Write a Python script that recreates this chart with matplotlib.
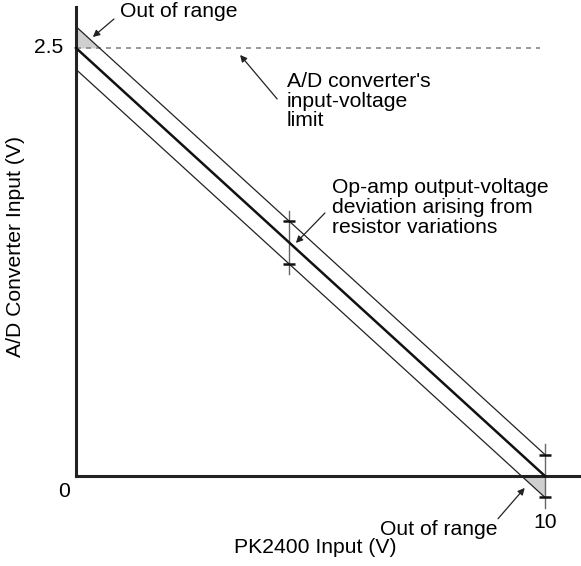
# A/D converter input vs PK2400 input, with tolerance band

import numpy as np
import matplotlib.pyplot as plt

plt.rcParams['font.family'] = ['Liberation Sans', 'DejaVu Sans']

# Data
x_in = [0.0, 10.0]              # PK2400 input (V)
adc = [2.5, 0.0]                # nominal A/D converter input (V)
dev = 0.125                     # op-amp output deviation (V)
adc_limit = 2.5                 # A/D input-voltage limit (V)
bar_x = [4.54, 10.0]            # where the deviation bars are drawn

x = np.array(x_in)
y = np.array(adc)
slope = (y[1] - y[0]) / (x[1] - x[0])
def nominal(v):
    return y[0] + slope * (np.asarray(v) - x[0])

fig = plt.figure(figsize=(5.81, 5.66), dpi=100)
ax = fig.add_axes([0, 0, 1, 1])
ax.set_xlim(-1.62, 10.77)
ax.set_ylim(-0.526, 2.78)

# axes lines
for s in ['top', 'right']:
    ax.spines[s].set_visible(False)
ax.spines['left'].set_position(('data', 0))
ax.spines['bottom'].set_position(('data', 0))
ax.spines['left'].set_bounds(0, 2.74)
ax.spines['bottom'].set_bounds(0, 10.77)
ax.spines['left'].set_linewidth(2.2)
ax.spines['bottom'].set_linewidth(2.2)
ax.spines['left'].set_color('#222222')
ax.spines['bottom'].set_color('#222222')
ax.set_xticks([])
ax.set_yticks([])

# shaded out-of-range regions
xt = np.array([0, dev / -slope])
ax.fill_between(xt, nominal(xt) + dev, adc_limit, color='#cfcfcf', lw=0, zorder=1)
xb = np.array([x[1] - dev / -slope, x[1]])
ax.fill_between(xb, nominal(xb) - dev, 0, color='#cfcfcf', lw=0, zorder=1)

# limit line
ax.plot([0, 9.9], [adc_limit, adc_limit], ls=(0, (3, 3)), color='#888888', lw=1.2)

# transfer lines
ax.plot(x, y, color='#111111', lw=1.8, zorder=3)
ax.plot(x, y + dev, color='#222222', lw=0.9, zorder=3)
ax.plot(x, y - dev, color='#222222', lw=0.9, zorder=3)

# deviation bars
for bx in bar_x:
    yc = float(nominal(bx))
    ax.plot([bx, bx], [yc - dev - 0.06, yc + dev + 0.06], color='#666666', lw=1.0, zorder=2)
    ax.plot([bx, bx], [yc - dev, yc + dev], ls='none', marker='_', ms=9,
            mew=1.8, color='#111111', zorder=4)

fs = 15.2
# tick labels
ax.text(-0.28, 2.5, '2.5', ha='right', va='center', fontsize=fs)
ax.text(-0.25, -0.09, '0', ha='center', va='center', fontsize=fs)
ax.text(10.0, -0.27, '10', ha='center', va='center', fontsize=fs)

# axis labels
ax.text(5.1, -0.42, 'PK2400 Input (V)', ha='center', va='center', fontsize=fs)
ax.text(-1.3, 1.34, 'A/D Converter Input (V)', ha='center', va='center',
        rotation=90, fontsize=fs)

arrow = dict(arrowstyle='-|>', color='#222222', lw=0.9, mutation_scale=10,
             shrinkA=0, shrinkB=0)

# annotations
ax.text(0.93, 2.71, 'Out of range', ha='left', va='center', fontsize=fs)
ax.annotate('', xy=(0.36, 2.564), xytext=(0.81, 2.669), arrowprops=arrow)

ax.text(4.5, 2.36, "A/D converter's\ninput-voltage\nlimit", ha='left', va='top',
        fontsize=fs, linespacing=1.05)
ax.annotate('', xy=(3.50, 2.459), xytext=(4.29, 2.202), arrowprops=arrow)

ax.text(5.46, 1.74, 'Op-amp output-voltage\ndeviation arising from\nresistor variations',
        ha='left', va='top', fontsize=fs, linespacing=1.05)
ax.annotate('', xy=(4.69, 1.361), xytext=(5.31, 1.536), arrowprops=arrow)

ax.text(8.98, -0.315, 'Out of range', ha='right', va='center', fontsize=fs)
ax.annotate('', xy=(9.57, -0.07), xytext=(9.0, -0.25), arrowprops=arrow)

fig.savefig('out.png', dpi=100)
